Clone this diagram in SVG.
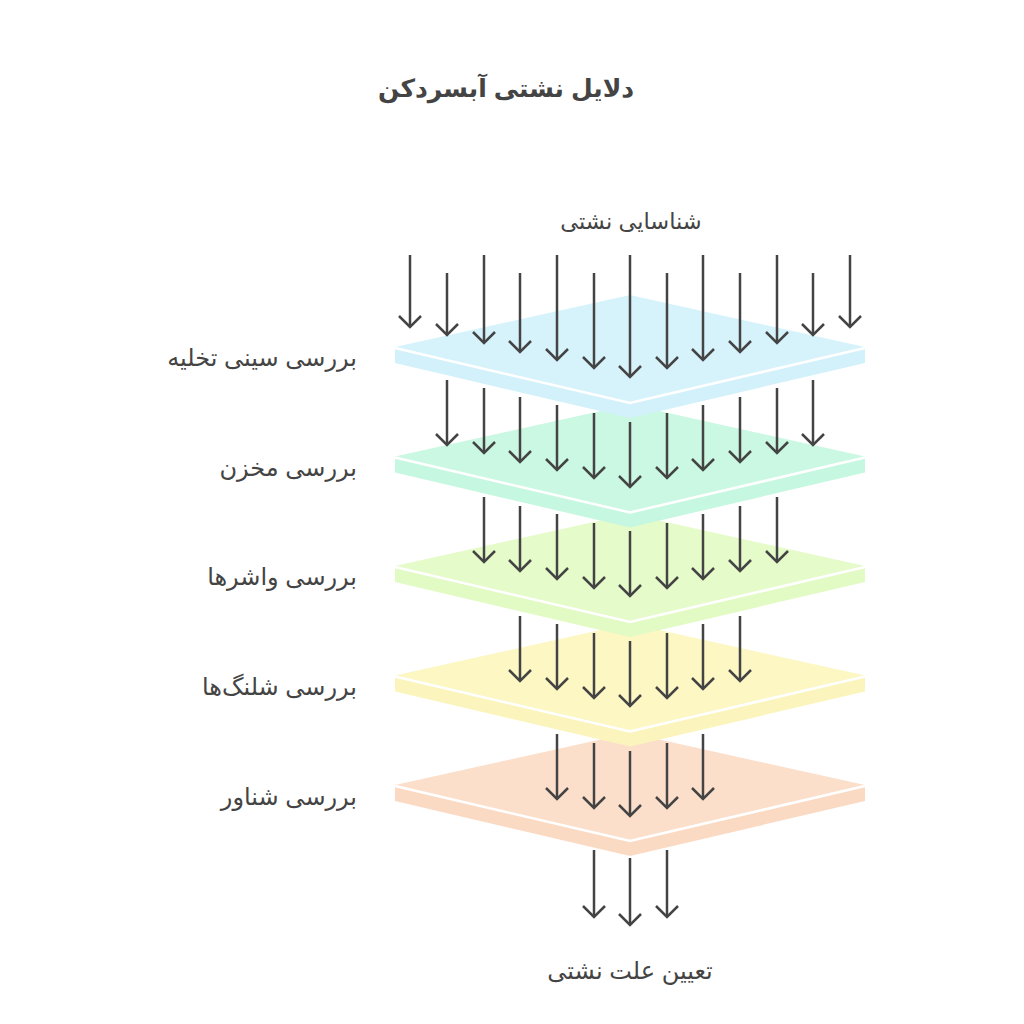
<svg xmlns="http://www.w3.org/2000/svg" width="1024" height="1024" viewBox="0 0 1024 1024">
<style>
.t{font-family:"Liberation Sans","DejaVu Sans",sans-serif;fill:#444444;}
.title{font-size:25px;font-weight:bold;}
.lbl{font-size:24px;}
.wl{fill:none;stroke:#ffffff;stroke-width:2.5;}
.ar{fill:none;stroke:#444444;stroke-width:2.5;marker-end:url(#ah);}
</style>
<defs>
<marker id="ah" markerUnits="userSpaceOnUse" viewBox="-14 -14 28 28" markerWidth="28" markerHeight="28" refX="0" refY="0" orient="auto">
<path d="M-11,-11 L0,0 L-11,11" fill="none" stroke="#444444" stroke-width="2.5" stroke-linejoin="miter"/>
</marker>
</defs>
<rect width="1024" height="1024" fill="#ffffff"/>
<text class="t title" x="506" y="97" text-anchor="middle">دلایل نشتی آبسردکن</text>

<g id="layer5" transform="translate(0,438)">
<polygon points="395,347 630,402 865,347 865,363 630,418 395,363" fill="#fbdac4"/>
<polygon points="630,295 865,347 630,402 395,347" fill="#fcdfcb"/>
<polyline class="wl" points="395,348 630,403 865,348"/>
</g>
<g id="layer4" transform="translate(0,328.5)">
<polygon points="395,347 630,402 865,347 865,363 630,418 395,363" fill="#fbf5bd"/>
<polygon points="630,295 865,347 630,402 395,347" fill="#fcf7c3"/>
<polyline class="wl" points="395,348 630,403 865,348"/>
</g>
<g id="layer3" transform="translate(0,219)">
<polygon points="395,347 630,402 865,347 865,363 630,418 395,363" fill="#e2fac4"/>
<polygon points="630,295 865,347 630,402 395,347" fill="#e5fbc9"/>
<polyline class="wl" points="395,348 630,403 865,348"/>
</g>
<g id="layer2" transform="translate(0,109.5)">
<polygon points="395,347 630,402 865,347 865,363 630,418 395,363" fill="#c6f7e0"/>
<polygon points="630,295 865,347 630,402 395,347" fill="#cbf8e3"/>
<polyline class="wl" points="395,348 630,403 865,348"/>
</g>
<g id="layer1">
<polygon points="395,347 630,402 865,347 865,363 630,418 395,363" fill="#d2f1fb"/>
<polygon points="630,295 865,347 630,402 395,347" fill="#d6f3fc"/>
<polyline class="wl" points="395,348 630,403 865,348"/>
</g>

<g id="labels">
<text class="t lbl" x="631" y="229" text-anchor="middle" style="font-size:22.5px">شناسایی نشتی</text>
<text class="t lbl" x="357" y="366" text-anchor="end">بررسی سینی تخلیه</text>
<text class="t lbl" x="357" y="476" text-anchor="end">بررسی مخزن</text>
<text class="t lbl" x="357" y="585" text-anchor="end">بررسی واشرها</text>
<text class="t lbl" x="357" y="695" text-anchor="end">بررسی شلنگ‌ها</text>
<text class="t lbl" x="357" y="805" text-anchor="end">بررسی شناور</text>
<text class="t lbl" x="630" y="979" text-anchor="middle">تعیین علت نشتی</text>
</g>

<g id="connectors">
<line class="ar" x1="410" y1="255" x2="410" y2="327"/>
<line class="ar" x1="447" y1="273" x2="447" y2="335"/>
<line class="ar" x1="484" y1="255" x2="484" y2="343"/>
<line class="ar" x1="520" y1="273" x2="520" y2="352"/>
<line class="ar" x1="557" y1="255" x2="557" y2="360"/>
<line class="ar" x1="594" y1="273" x2="594" y2="368"/>
<line class="ar" x1="630" y1="255" x2="630" y2="377"/>
<line class="ar" x1="667" y1="273" x2="667" y2="368"/>
<line class="ar" x1="703" y1="255" x2="703" y2="360"/>
<line class="ar" x1="740" y1="273" x2="740" y2="352"/>
<line class="ar" x1="777" y1="255" x2="777" y2="343"/>
<line class="ar" x1="813" y1="273" x2="813" y2="335"/>
<line class="ar" x1="850" y1="255" x2="850" y2="327"/>
<line class="ar" x1="447" y1="380" x2="447" y2="445"/>
<line class="ar" x1="484" y1="388" x2="484" y2="453"/>
<line class="ar" x1="520" y1="397" x2="520" y2="462"/>
<line class="ar" x1="557" y1="405" x2="557" y2="470"/>
<line class="ar" x1="594" y1="413" x2="594" y2="478"/>
<line class="ar" x1="630" y1="422" x2="630" y2="487"/>
<line class="ar" x1="667" y1="413" x2="667" y2="478"/>
<line class="ar" x1="703" y1="405" x2="703" y2="470"/>
<line class="ar" x1="740" y1="397" x2="740" y2="462"/>
<line class="ar" x1="777" y1="388" x2="777" y2="453"/>
<line class="ar" x1="813" y1="380" x2="813" y2="445"/>
<line class="ar" x1="484" y1="497" x2="484" y2="562"/>
<line class="ar" x1="520" y1="506" x2="520" y2="571"/>
<line class="ar" x1="557" y1="514" x2="557" y2="579"/>
<line class="ar" x1="594" y1="523" x2="594" y2="588"/>
<line class="ar" x1="630" y1="531" x2="630" y2="596"/>
<line class="ar" x1="667" y1="523" x2="667" y2="588"/>
<line class="ar" x1="703" y1="514" x2="703" y2="579"/>
<line class="ar" x1="740" y1="506" x2="740" y2="571"/>
<line class="ar" x1="777" y1="497" x2="777" y2="562"/>
<line class="ar" x1="520" y1="616" x2="520" y2="681"/>
<line class="ar" x1="557" y1="624" x2="557" y2="689"/>
<line class="ar" x1="594" y1="633" x2="594" y2="698"/>
<line class="ar" x1="630" y1="641" x2="630" y2="706"/>
<line class="ar" x1="667" y1="633" x2="667" y2="698"/>
<line class="ar" x1="703" y1="624" x2="703" y2="689"/>
<line class="ar" x1="740" y1="616" x2="740" y2="681"/>
<line class="ar" x1="557" y1="734" x2="557" y2="799"/>
<line class="ar" x1="594" y1="743" x2="594" y2="808"/>
<line class="ar" x1="630" y1="751" x2="630" y2="816"/>
<line class="ar" x1="667" y1="743" x2="667" y2="808"/>
<line class="ar" x1="703" y1="734" x2="703" y2="799"/>
<line class="ar" x1="594" y1="850" x2="594" y2="917"/>
<line class="ar" x1="630" y1="858" x2="630" y2="925"/>
<line class="ar" x1="667" y1="850" x2="667" y2="917"/>
</g>
</svg>
